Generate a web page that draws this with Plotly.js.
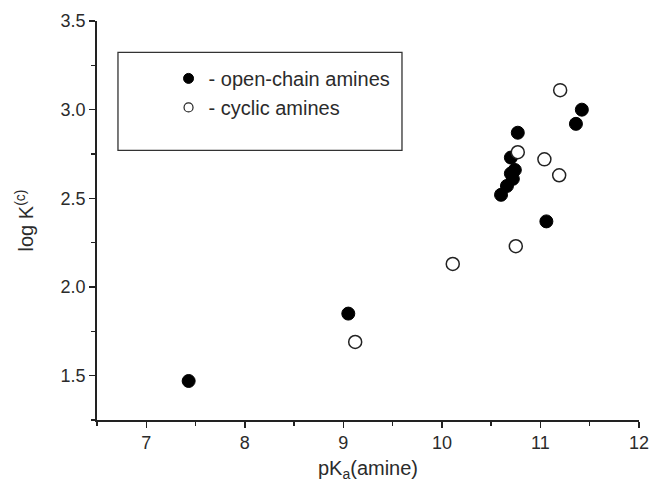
<!DOCTYPE html>
<html>
<head>
<meta charset="utf-8">
<script src="https://cdn.plot.ly/plotly-3.0.1.min.js"></script>
<style>
  html, body { margin: 0; padding: 0; background: #fff; }
  #chart { width: 652px; height: 485px; }
</style>
</head>
<body>
<div id="chart"></div>
<script>
// Data
const openChainPKa = [7.43, 9.05, 10.60, 10.66, 10.72, 10.70, 10.74, 10.70, 10.77, 11.06, 11.36, 11.42];
const openChainLogK = [1.47, 1.85, 2.52, 2.57, 2.61, 2.64, 2.66, 2.73, 2.87, 2.37, 2.92, 3.00];
const cyclicPKa = [9.12, 10.11, 10.75, 10.77, 11.04, 11.19, 11.20];
const cyclicLogK = [1.69, 2.13, 2.23, 2.76, 2.72, 2.63, 3.11];
const seriesNames = ['- open-chain amines', '- cyclic amines'];
const xTitle = 'pK<sub>a</sub>(amine)';
const yTitle = 'log K<sup>(c)</sup>';

const FONT = 'Arial, "Liberation Sans", sans-serif';
const INK = '#2b2b2b';

const traces = [
  {
    x: openChainPKa, y: openChainLogK, type: 'scatter', mode: 'markers',
    name: seriesNames[0], showlegend: false,
    marker: { symbol: 'circle', size: 13, color: '#000', line: { color: '#000', width: 1 } }
  },
  {
    x: cyclicPKa, y: cyclicLogK, type: 'scatter', mode: 'markers',
    name: seriesNames[1], showlegend: false,
    marker: { symbol: 'circle', size: 13, color: '#fff', line: { color: '#222', width: 1.5 } }
  },
  // legend entries (smaller symbols, as in the reference legend)
  {
    x: [null], y: [null], type: 'scatter', mode: 'markers', name: seriesNames[0],
    marker: { symbol: 'circle', size: 10, color: '#000', line: { color: '#000', width: 1 } }
  },
  {
    x: [null], y: [null], type: 'scatter', mode: 'markers', name: seriesNames[1],
    marker: { symbol: 'circle', size: 9, color: '#fff', line: { color: '#222', width: 1.2 } }
  }
];

const layout = {
  width: 652, height: 485,
  margin: { l: 97, r: 13, t: 21, b: 65, pad: 0 },
  paper_bgcolor: '#fff', plot_bgcolor: '#fff',
  font: { family: FONT, color: INK, size: 18 },
  showlegend: true,
  legend: {
    x: 0.132, y: 0.905, xanchor: 'left', yanchor: 'top',
    bgcolor: 'rgba(0,0,0,0)', borderwidth: 0,
    font: { family: FONT, size: 20, color: INK },
    tracegroupgap: 0
  },
  shapes: [{
    type: 'rect', xref: 'paper', yref: 'paper',
    x0: 0.0387, x1: 0.5627, y0: 0.6756, y1: 0.9215,
    line: { color: '#333', width: 1.3 }, fillcolor: 'rgba(0,0,0,0)', layer: 'below'
  }],
  xaxis: {
    range: [6.5, 12], dtick: 1, tick0: 7,
    showline: true, linecolor: '#222', linewidth: 1.8,
    showgrid: false, zeroline: false,
    ticks: 'outside', ticklen: 6, tickwidth: 1.5, tickcolor: '#222',
    tickfont: { family: FONT, size: 18, color: INK },
    minor: { dtick: 0.5, ticks: 'outside', ticklen: 4, tickwidth: 1.5, tickcolor: '#222', showgrid: false },
    title: { text: xTitle, font: { family: FONT, size: 20, color: INK }, standoff: 8 }
  },
  yaxis: {
    range: [1.25, 3.5], dtick: 0.5, tick0: 1.5, tickformat: '.1f',
    showline: true, linecolor: '#222', linewidth: 1.8,
    showgrid: false, zeroline: false,
    ticks: 'outside', ticklen: 6, tickwidth: 1.5, tickcolor: '#222',
    tickfont: { family: FONT, size: 18, color: INK },
    minor: { dtick: 0.25, ticks: 'outside', ticklen: 4, tickwidth: 1.5, tickcolor: '#222', showgrid: false },
    title: { text: yTitle, font: { family: FONT, size: 20, color: INK }, standoff: 21 }
  }
};

Plotly.newPlot('chart', traces, layout, { staticPlot: true, displayModeBar: false });
</script>
</body>
</html>
